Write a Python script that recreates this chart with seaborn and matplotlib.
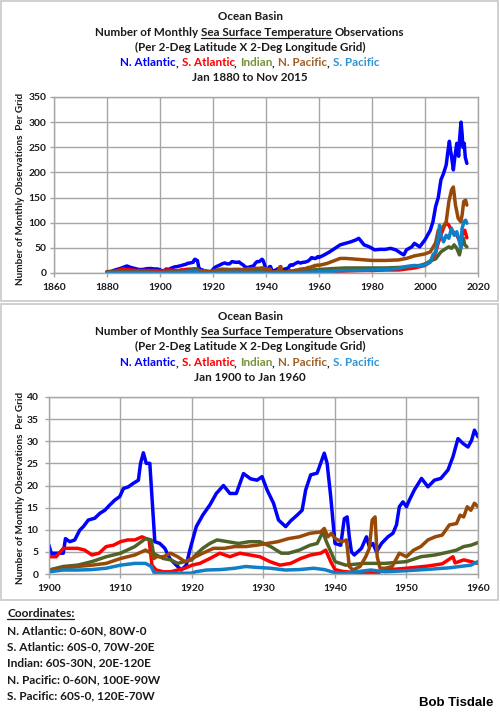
import numpy as np
import pandas as pd
import matplotlib
matplotlib.use("Agg")
import matplotlib.pyplot as plt
import seaborn as sns
from matplotlib.transforms import IdentityTransform
from matplotlib.lines import Line2D
from matplotlib.patches import Rectangle

# ---------------- data ----------------
basins = ["N. Atlantic", "S. Atlantic", "Indian", "N. Pacific", "S. Pacific"]

na_yr = [1880, 1881.5, 1883, 1885, 1886.5, 1887.5, 1889, 1890.5, 1892, 1893.5, 1895, 1896.5, 1898, 1899,
         1900.0, 1900.3, 1901.3, 1902.0, 1902.3, 1902.9, 1903.6, 1904.3, 1904.8, 1905.5, 1906.4, 1907.1,
         1907.8, 1908.5, 1909.2, 1909.9, 1910.4, 1911.1, 1911.8, 1912.5, 1912.8, 1913.2, 1913.6, 1914.1,
         1914.4, 1914.8, 1915.5, 1916.2, 1916.9, 1917.8, 1918.5, 1919.2, 1919.7, 1920.6, 1921.5, 1922.5,
         1923.4, 1924.4, 1925.3, 1926.2, 1927.2, 1928.2, 1929.1, 1929.8, 1930.5, 1931.4, 1932.1, 1933.1,
         1933.8, 1934.7, 1935.4, 1935.9, 1936.6, 1937.5, 1938.5, 1938.9, 1939.4, 1940.0, 1940.8, 1941.3,
         1941.7, 1942.0, 1942.3, 1942.7, 1943.7, 1944.4, 1944.8, 1945.3, 1945.8, 1946.5, 1947.4, 1948.1,
         1948.6, 1949.0, 1949.5, 1950.0, 1950.4, 1951.1, 1952.1, 1953.0, 1953.9, 1954.8, 1955.8, 1956.5,
         1957.2, 1957.9, 1958.6, 1959.1, 1959.5, 1960,
         1962, 1964, 1966, 1968, 1970, 1972, 1974, 1975, 1977, 1979, 1981, 1983, 1985, 1987, 1989, 1991,
         1992, 1993, 1995, 1996, 1998, 2000, 2002, 2003, 2004, 2005, 2006, 2007, 2008, 2008.6, 2009.2,
         2009.6, 2010, 2010.7, 2011.2, 2012, 2012.7, 2013.1, 2013.6, 2014, 2014.3, 2014.8, 2015.2, 2015.8]
na_val = [2.6, 3, 6, 9, 12, 14, 11, 9, 7, 7, 8.6, 9, 8, 8,
          6.5, 4.7, 4.7, 4.7, 8, 7.3, 7.7, 9.9, 10.7, 12.2, 12.6, 13.7,
          14.4, 15.6, 16.7, 17.5, 19.3, 19.7, 20.5, 21.2, 25, 27.4, 25, 25,
          17.5, 7.3, 6.9, 5.8, 3.5, 2.0, 0.9, 2.0, 5.4, 10.7, 13.3, 15.6,
          18.2, 20, 18.2, 18.2, 22.7, 21.5, 21.2, 22, 19, 16, 12.2, 10.7,
          12, 13.3, 14.4, 19, 22.4, 22.8, 27.3, 25, 17.5, 6.9, 6.5, 12.5,
          12.9, 8.4, 5.0, 4.3, 5.8, 8.4, 6.2, 6.9, 5.0, 6.9, 8.4, 9.2,
          11.1, 15.2, 16.3, 15.2, 16.7, 19, 21.6, 19.7, 21.2, 21.6, 23.5, 26.5,
          30.6, 29.5, 28.7, 30.2, 32.5, 31,
          36, 42, 49, 56, 59, 62, 66, 69, 56, 52, 46, 47, 47, 49, 46, 39,
          36, 46, 52, 59, 52, 66, 85, 102, 132, 150, 185, 198, 215, 240, 262,
          245, 232, 205, 228, 258, 232, 270, 300, 277, 250, 258, 230, 218]

sa_yr = [1880, 1883, 1886, 1889, 1892, 1895, 1898,
         1900, 1901, 1902, 1903, 1904, 1905, 1906, 1907, 1908, 1909, 1910, 1911, 1912, 1913, 1914, 1914.4,
         1915, 1916, 1917, 1918, 1919, 1920, 1921.1, 1922.5, 1923.9, 1925.3, 1926.7, 1928.1, 1929.5,
         1930.9, 1932.3, 1933.8, 1935.2, 1936.6, 1938.0, 1938.7, 1939.4, 1940, 1941, 1943, 1945, 1946,
         1947, 1950, 1953, 1955, 1956.5, 1956.8, 1958, 1959, 1960,
         1965, 1970, 1975, 1980, 1985, 1990, 1993, 1996, 2000, 2002, 2004, 2005, 2006, 2007, 2008, 2009,
         2010, 2011, 2012, 2013, 2014, 2015, 2015.8]
sa_val = [2, 4, 8, 6, 5, 5, 5,
          3.9, 3.9, 5.8, 5.8, 5.8, 5.4, 4.3, 4.7, 6.2, 6.5, 7.3, 7.7, 7.7, 8.4, 7.7, 2,
          0.9, 0.5, 0.5, 0.9, 1.3, 2.0, 2.4, 3.5, 4.7, 3.9, 4.7, 4.3, 3.9,
          2.8, 2.0, 2.4, 3.5, 4.3, 4.7, 5.4, 2.8, 1.0, 0.6, 0.3, 0.3, 0.3,
          0.9, 1.3, 1.8, 2.3, 3.9, 2.5, 3.2, 2.8, 2.4,
          3, 4, 5, 5, 6, 6, 8, 10, 15, 22, 40, 60, 75, 90, 100, 95,
          85, 80, 75, 65, 75, 85, 70]

io_yr = [1880, 1885, 1890, 1895, 1898,
         1900, 1902, 1904, 1906, 1908, 1910, 1912, 1913.5, 1914.3, 1914.6, 1915, 1916, 1917, 1918, 1919,
         1920, 1920.5, 1921.5, 1922.5, 1923.5, 1925, 1926.5, 1928, 1929.5, 1931, 1932.5, 1933.5, 1935,
         1936.5, 1937.5, 1938.3, 1938.8, 1939.5, 1940, 1941.5, 1944, 1947, 1950, 1952, 1954, 1956, 1957,
         1958, 1959, 1960,
         1963, 1966, 1970, 1975, 1980, 1985, 1990, 1993, 1996, 1998, 2000, 2002, 2004, 2006, 2008, 2009,
         2010, 2011, 2012, 2013, 2014, 2014.5, 2015, 2015.8]
io_val = [2, 3, 3, 2, 1.5,
          0.9, 1.7, 2.0, 2.8, 3.9, 4.7, 6.2, 8, 7.7, 4.7, 4.3, 3.5, 3.2, 2.4, 2.8,
          3.2, 4.3, 5.8, 6.9, 7.7, 7.3, 6.9, 7.3, 7.3, 6.2, 4.7, 4.7, 5.4,
          6.5, 6.9, 9.5, 7.3, 4.7, 2.8, 2.0, 2.4, 2.4, 2.8, 3.9, 4.3, 5.0, 5.4,
          6.2, 6.5, 7.1,
          8, 9, 10, 10, 10, 10, 11, 12, 14, 15, 18, 24, 28, 42, 49, 52,
          49, 56, 49, 36, 62, 69, 56, 52]

np_yr = [1880, 1885, 1890, 1895, 1898,
         1900, 1902, 1904, 1906, 1908, 1910, 1912, 1913.5, 1914.3, 1914.7, 1915, 1916, 1917, 1918, 1919,
         1920, 1921.5, 1923, 1924.5, 1926, 1927.5, 1929, 1930.5, 1932, 1933.5, 1935, 1936.5, 1938, 1938.5,
         1939, 1939.5, 1940, 1941, 1941.6, 1942.0, 1942.5, 1943.5, 1944.3, 1944.8, 1945.2, 1945.6, 1945.9,
         1946.3, 1947, 1948, 1949, 1950, 1951, 1952, 1953, 1954, 1955, 1956, 1957, 1957.5, 1958, 1958.5,
         1959, 1959.5, 1960,
         1963, 1966, 1968, 1970, 1975, 1980, 1985, 1990, 1993, 1996, 2000, 2002, 2004, 2005, 2006.5, 2008,
         2009, 2010, 2010.7, 2011.5, 2012.5, 2013.5, 2014, 2014.6, 2015.3, 2015.8]
np_val = [1, 2, 2, 1.5, 1,
          0.9, 1.3, 1.7, 2.0, 2.4, 3.5, 4.3, 5.4, 4.7, 3.5, 3.9, 3.9, 4.7, 3.9, 2.8,
          3.5, 4.7, 5.8, 5.8, 6.2, 6.2, 6.5, 6.9, 7.3, 8, 8.4, 9.2, 9.5, 10.3,
          8.4, 9.2, 8.0, 7.3, 7.7, 1.7, 0.9, 1.7, 3.9, 5.8, 12.2, 12.9, 3.9,
          1.3, 1.3, 1.7, 4.7, 3.9, 5.4, 6.2, 7.7, 8.4, 8.8, 11.1, 11.4, 13.3, 12.9, 15.2,
          14.4, 16, 15.2,
          19, 25, 29, 29, 27, 25, 25, 26, 29, 34, 38, 42, 60, 85, 89, 102,
          142, 165, 171, 135, 109, 102, 115, 142, 145, 135]

sp_yr = [1880, 1885, 1890, 1895, 1898,
         1900, 1902, 1904, 1906, 1908, 1910, 1912, 1913.5, 1914.3, 1914.7, 1916, 1918, 1920, 1920.5, 1922,
         1924, 1926, 1927.5, 1929, 1931, 1933, 1935, 1937, 1938.5, 1940, 1941, 1943, 1945, 1947, 1950,
         1953, 1956, 1958, 1959, 1960,
         1963, 1966, 1970, 1975, 1980, 1985, 1990, 1993, 1996, 1998, 2000, 2002, 2003, 2004, 2005, 2005.5,
         2006, 2007, 2008, 2009, 2010, 2011, 2012, 2013, 2013.5, 2014, 2014.7, 2015.3, 2015.8]
sp_val = [0.5, 1, 1, 0.8, 0.6,
          0.5, 0.9, 0.9, 1.0, 1.3, 2.0, 2.4, 2.4, 1.7, 0.3, 0.15, 0.15, 0.2, 0.5, 0.9,
          1.0, 1.3, 1.7, 1.5, 1.3, 0.9, 1.0, 1.3, 1.0, 0.3, 0.15, 0.5, 0.9, 0.5, 0.75,
          1.05, 1.4, 1.8, 2.0, 2.8,
          3, 4, 5, 5, 6, 7, 9, 13, 15, 14, 16, 22, 36, 42, 69, 95,
          75, 62, 75, 69, 89, 75, 82, 62, 49, 89, 102, 105, 99]

full_xticks = [1860, 1880, 1900, 1920, 1940, 1960, 1980, 2000, 2020]
full_yticks = [0, 50, 100, 150, 200, 250, 300, 350]
zoom_xticks = [1900, 1910, 1920, 1930, 1940, 1950, 1960]
zoom_yticks = [0, 5, 10, 15, 20, 25, 30, 35, 40]

coords = ["N. Atlantic: 0-60N, 80W-0",
          "S. Atlantic: 60S-0, 70W-20E",
          "Indian: 60S-30N, 20E-120E",
          "N. Pacific: 0-60N, 100E-90W",
          "S. Pacific: 60S-0, 120E-70W"]

# ---------------- styling ----------------
line_colors = {"N. Atlantic": "#0000ff", "S. Atlantic": "#ff0000", "Indian": "#4f6228",
               "N. Pacific": "#984807", "S. Pacific": "#0f7fc8"}
title_colors = {"N. Atlantic": "#0000ff", "S. Atlantic": "#ff0000", "Indian": "#77933c",
                "N. Pacific": "#a0602a", "S. Pacific": "#2e95d8"}
GRID = "#a6a6a6"
FRAME = "#c8c8c8"
TXT = "#1a1a1a"

sns.set_theme(style="white")
plt.rcParams["font.family"] = ["Lato", "DejaVu Sans"]

W, H = 500, 712
fig = plt.figure(figsize=(W / 100, H / 100), dpi=100)
fig.patch.set_facecolor("white")
R = fig.canvas.get_renderer()
ID = IdentityTransform()

series = {"N. Atlantic": (na_yr, na_val), "S. Atlantic": (sa_yr, sa_val), "Indian": (io_yr, io_val),
          "N. Pacific": (np_yr, np_val), "S. Pacific": (sp_yr, sp_val)}
df = pd.concat([pd.DataFrame({"year": y, "value": v, "basin": k}) for k, (y, v) in series.items()],
               ignore_index=True)


def px_axes(x0, y0, x1, y1):
    return fig.add_axes([x0 / W, (H - y1) / H, (x1 - x0) / W, (y1 - y0) / H])


def text_width(s, size):
    t = fig.text(0, 0, s, fontsize=size, fontweight="bold", transform=ID)
    w = t.get_window_extent(R).width
    t.remove()
    return w


def seg_line(segs, y_img, size, cx=None, x_left=None):
    """segs: (text, colour, underline, space_after). Each piece is right-aligned at the
    measured end of the cumulative string so spacing matches a single text run."""
    full = "".join(s + (" " if g else "") for s, c, u, g in segs).rstrip()
    total = text_width(full, size)
    x0 = cx - total / 2 if cx is not None else x_left
    yb = H - y_img
    cum = ""
    for s, c, u, g in segs:
        cum += s
        right = x0 + text_width(cum, size)
        nudge = -1.0 if s == "," else 0.0
        fig.text(right + nudge, yb, s, color=c, fontsize=size, fontweight="bold", ha="right",
                 va="baseline", transform=ID)
        if u:
            w = text_width(s, size)
            fig.add_artist(Line2D([right - w, right], [yb - 2, yb - 2], color=c, lw=0.9, transform=ID))
        if g:
            cum += " "


def titles(ybase, period):
    size = 8.4
    cx = 250
    seg_line([("Ocean Basin", TXT, False, False)], ybase[0], size, cx=cx)
    seg_line([("Number of Monthly", TXT, False, True),
              ("Sea Surface Temperature", TXT, True, True),
              ("Observations", TXT, False, False)], ybase[1], size, cx=cx)
    seg_line([("(Per 2-Deg Latitude X 2-Deg Longitude Grid)", TXT, False, False)], ybase[2], size, cx=cx)
    segs = []
    for i, b in enumerate(basins):
        segs.append((b, title_colors[b], False, False))
        if i < len(basins) - 1:
            segs.append((",", TXT, False, True))
    seg_line(segs, ybase[3], size, cx=cx)
    seg_line([(period, TXT, False, False)], ybase[4], size, cx=cx)


def style_axes(ax, xlim, ylim, xt, yt, ypad):
    ax.set_xlim(*xlim)
    ax.set_ylim(*ylim)
    ax.set_xticks(xt)
    ax.set_yticks(yt)
    ax.set_xticklabels([str(v) for v in xt])
    ax.set_yticklabels([str(v) for v in yt])
    ax.grid(True, color=GRID, lw=1.0)
    ax.set_axisbelow(True)
    for sp in ax.spines.values():
        sp.set_color(GRID)
        sp.set_linewidth(1.0)
    ax.tick_params(axis="both", direction="out", length=3, width=1, color=GRID,
                   labelsize=7.4, labelcolor=TXT)
    ax.tick_params(axis="x", pad=4)
    ax.tick_params(axis="y", pad=ypad)
    ax.xaxis.set_ticks_position("bottom")
    ax.yaxis.set_ticks_position("left")
    for lbl in ax.get_xticklabels() + ax.get_yticklabels():
        lbl.set_fontweight("bold")
    ax.set_xlabel("")
    ax.set_ylabel("")


def draw(ax):
    sns.lineplot(data=df, x="year", y="value", hue="basin", hue_order=basins, palette=line_colors,
                 linewidth=2.5, estimator=None, legend=False, ax=ax)


# frames
fig.add_artist(Rectangle((1, H - 301), 497, 300, fill=False, edgecolor=FRAME, lw=1.2, transform=ID))
fig.add_artist(Rectangle((1, H - 600), 497, 296, fill=False, edgecolor=FRAME, lw=1.2, transform=ID))

YLAB = "Number of Monthly Observations  Per Grid"

# top chart
ax1 = px_axes(54, 97, 478, 273)
draw(ax1)
style_axes(ax1, (1860, 2020), (0, 350), full_xticks, full_yticks, 2.5)
titles([20, 36, 51, 66, 81], "Jan 1880 to Nov 2015")
fig.text(21, H - 189, YLAB, rotation=90, ha="center", va="center",
         fontsize=7.2, fontweight="bold", color=TXT, transform=ID)

# bottom chart
ax2 = px_axes(49, 397, 478, 574)
draw(ax2)
style_axes(ax2, (1900, 1960), (0, 40), zoom_xticks, zoom_yticks, 4.5)
titles([320, 335, 350, 366, 381], "Jan 1900 to Jan 1960")
fig.text(21, H - 488, YLAB, rotation=90, ha="center", va="center",
         fontsize=7.2, fontweight="bold", color=TXT, transform=ID)

# coordinates block
seg_line([("Coordinates:", TXT, True, False)], 617, 8.6, x_left=7)
for i, c in enumerate(coords):
    seg_line([(c, TXT, False, False)], 634 + i * 16.3, 8.6, x_left=7)

fig.text(493, H - 706, "Bob Tisdale", ha="right", va="baseline", fontsize=9.5, fontweight="bold",
         family=["Liberation Sans", "DejaVu Sans"], color="black", transform=ID)

fig.savefig("out.png", dpi=100, facecolor="white")
